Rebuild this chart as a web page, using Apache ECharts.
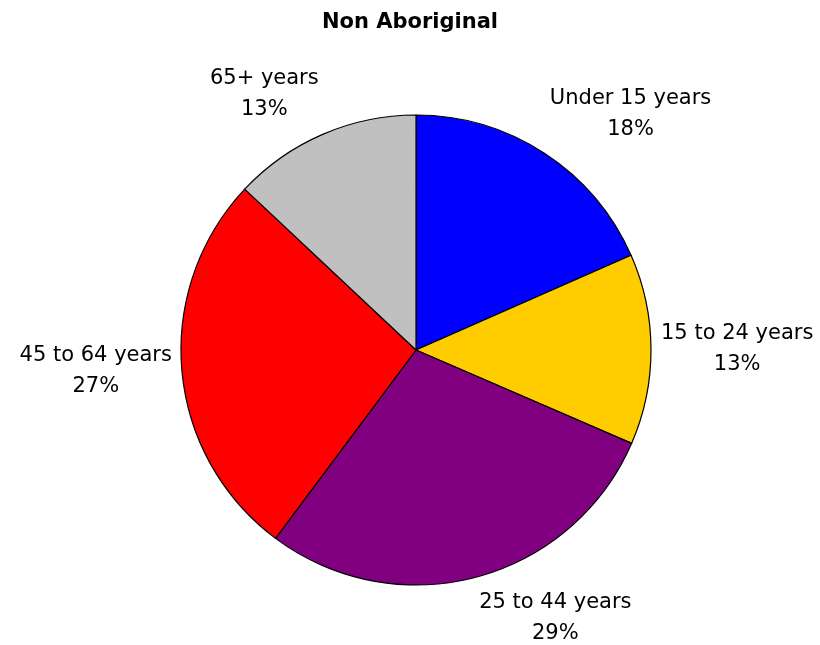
<!DOCTYPE html>
<html>
<head>
<meta charset="utf-8">
<script src="https://cdn.jsdelivr.net/npm/echarts@6/dist/echarts.min.js"></script>
<style>html,body{margin:0;padding:0;background:#fff;}#c{width:820px;height:645px;}</style>
</head>
<body>
<div id="c"></div>
<script>
var titleText = 'Non Aboriginal';
var categories = ['Under 15 years', '15 to 24 years', '25 to 44 years', '45 to 64 years', '65+ years'];
var values = [18.4, 13.1, 28.7, 26.8, 13.0];
var colors = ['#0000FF', '#FFCC00', '#800080', '#FF0000', '#C0C0C0'];

var CX = 416, CY = 350, R = 235, GAP = 10;
var total = values.reduce(function (a, b) { return a + b; }, 0);
function midAngle(i) {
  var cum = 0;
  for (var k = 0; k < i; k++) cum += values[k];
  return (cum + values[i] / 2) / total * 2 * Math.PI;
}

var chart = echarts.init(document.getElementById('c'));
chart.setOption({
  backgroundColor: '#fff',
  animation: false,
  title: {
    text: titleText, left: 'center', top: 7,
    textStyle: { fontFamily: 'DejaVu Sans', fontSize: 21, fontWeight: 'bold', color: '#000' }
  },
  series: [{
    type: 'pie',
    center: [CX, CY],
    radius: R,
    startAngle: 90,
    clockwise: true,
    data: categories.map(function (c, i) {
      return { name: c, value: values[i], itemStyle: { color: colors[i] } };
    }),
    itemStyle: { borderColor: '#000', borderWidth: 1.2 },
    label: {
      show: true,
      position: 'outside',
      alignTo: 'none',
      overflow: 'none',
      formatter: function (p) { return p.name + '\n' + Math.round(p.percent) + '%'; },
      fontFamily: 'DejaVu Sans',
      fontSize: 21,
      lineHeight: 31,
      color: '#000',
      align: 'center'
    },
    labelLine: { show: false },
    emphasis: { disabled: true },
    labelLayout: function (params) {
      var a = midAngle(params.dataIndex);
      var s = Math.sin(a), c = Math.cos(a);
      var px = CX + (R + GAP) * s, py = CY - (R + GAP) * c;
      var w = params.labelRect.width, h = params.labelRect.height;
      var x = px + (s > 0.2 ? w / 2 : (s < -0.2 ? -w / 2 : 0));
      var y = py + (c > 0.2 ? -h / 2 : (c < -0.2 ? h / 2 : 0));
      return { x: x, y: y, align: 'center', verticalAlign: 'middle' };
    }
  }]
});
</script>
</body>
</html>
